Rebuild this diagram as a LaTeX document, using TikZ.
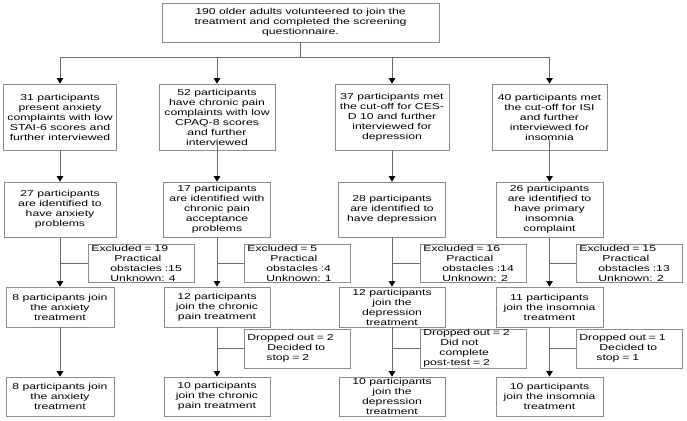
\documentclass[tikz,border=0pt]{standalone}
\usepackage{fontspec}
\setmainfont{Liberation Sans}[FakeStretch=1.42]
\usetikzlibrary{arrows.meta}
\definecolor{boxgray}{gray}{0.55}
\definecolor{linegray}{gray}{0.42}
\begin{document}
\begin{tikzpicture}[x=1pt,y=-1pt,
  box/.style={draw=boxgray, line width=0.8pt, align=center, inner xsep=1pt, inner ysep=0pt,
    font=\fontsize{8.6}{10}\selectfont},
  sidebox/.style={draw=boxgray, line width=0.8pt, align=left, text width=100pt, inner xsep=3pt,
    inner ysep=0pt, anchor=west, font=\fontsize{8.6}{10}\selectfont},
  ln/.style={draw=linegray, line width=0.8pt},
  arr/.style={ln, -{Triangle[width=6.5pt,length=5.5pt,color=black]}}]
\useasboundingbox (0,0) rectangle (687,420);
% top
\node[box, minimum width=277, minimum height=39] (top) at (300.5,22.5)
  {190 older adults volunteered to join the\\treatment and completed the screening\\questionnaire.};
% row 1
\node[box, minimum width=113, minimum height=66] (a1) at (60,117)
  {31 participants\\present anxiety\\complaints with low\\STAI-6 scores and\\further interviewed};
\node[box, minimum width=116, minimum height=66] (b1) at (217,117)
  {52 participants\\have chronic pain\\complaints with low\\CPAQ-8 scores\\and further\\interviewed};
\node[box, minimum width=114, minimum height=66] (c1) at (392,117)
  {37 participants met\\the cut-off for CES-\\D 10 and further\\interviewed for\\depression};
\node[box, minimum width=115, minimum height=66] (d1) at (549.5,117)
  {40 participants met\\the cut-off for ISI\\and further\\interviewed for\\insomnia};
% row 2
\node[box, minimum width=112, minimum height=55] (a2) at (60,209.5)
  {27 participants\\are identified to\\have anxiety\\problems};
\node[box, minimum width=107, minimum height=55] (b2) at (217,209.5)
  {17 participants\\are identified with\\chronic pain\\acceptance\\problems};
\node[box, minimum width=107, minimum height=55] (c2) at (392,209.5)
  {28 participants\\are identified to\\have depression};
\node[box, minimum width=107, minimum height=55] (d2) at (549.5,209.5)
  {26 participants\\are identified to\\have primary\\insomnia\\complaint};
% excluded
\node[sidebox, minimum height=38] (ea) at (88,263)
  {Excluded = 19\\\hspace*{23pt}Practical\\\hspace*{19pt}obstacles :15\\\hspace*{19pt}Unknown: 4};
\node[sidebox, minimum height=38] (eb) at (244,263)
  {Excluded = 5\\\hspace*{23pt}Practical\\\hspace*{19pt}obstacles :4\\\hspace*{19pt}Unknown: 1};
\node[sidebox, minimum height=38] (ec) at (420,263)
  {Excluded = 16\\\hspace*{23pt}Practical\\\hspace*{19pt}obstacles :14\\\hspace*{19pt}Unknown: 2};
\node[sidebox, minimum height=38] (ed) at (576,263)
  {Excluded = 15\\\hspace*{23pt}Practical\\\hspace*{19pt}obstacles :13\\\hspace*{19pt}Unknown: 2};
% row 4
\node[box, minimum width=108, minimum height=40] (a4) at (60,307)
  {8 participants join\\the anxiety\\treatment};
\node[box, minimum width=106, minimum height=40] (b4) at (217,307)
  {12 participants\\join the chronic\\pain treatment};
\node[box, minimum width=106, minimum height=40] (c4) at (392,307)
  {12 participants\\join the\\depression\\treatment};
\node[box, minimum width=107, minimum height=40] (d4) at (549.5,307)
  {11 participants\\join the insomnia\\treatment};
% dropped
\node[sidebox, minimum height=39] (db) at (244,348.5)
  {Dropped out = 2\\\hspace*{20pt}Decided to\\\hspace*{19pt}stop = 2};
\node[sidebox, minimum height=39] (dc) at (420,348.5)
  {Dropped out = 2\\\hspace*{17pt}Did not\\\hspace*{16pt}complete\\post-test = 2};
\node[sidebox, minimum height=39] (dd) at (576,348.5)
  {Dropped out = 1\\\hspace*{20pt}Decided to\\\hspace*{17pt}stop = 1};
% row 5
\node[box, minimum width=108, minimum height=39] (a5) at (60,396.5)
  {8 participants join\\the anxiety\\treatment};
\node[box, minimum width=106, minimum height=39] (b5) at (217,396.5)
  {10 participants\\join the chronic\\pain treatment};
\node[box, minimum width=106, minimum height=39] (c5) at (392,396.5)
  {10 participants\\join the\\depression\\treatment};
\node[box, minimum width=107, minimum height=39] (d5) at (549.5,396.5)
  {10 participants\\join the insomnia\\treatment};
% connectors
\coordinate (bus) at (0,57);
\draw[ln] (top.south) -- (top.south |- bus);
\draw[ln] (a1.north |- bus) -- (d1.north |- bus);
\foreach \n in {a,b,c,d} {
  \draw[arr] (\n1.north |- bus) -- (\n1.north);
  \draw[arr] (\n2.south) -- (\n4.north);
  \draw[arr] (\n4.south) -- (\n5.north);
}
\draw[arr] (a1.south) -- (a2.north);
\draw[arr] ([yshift=10pt]b1.south) -- (b2.north);
\draw[arr] (c1.south) -- (c2.north);
\draw[arr] ([yshift=10pt]d1.south) -- (d2.north);
\foreach \n in {a,b,c,d} \draw[ln] (e\n.west) -- (e\n.west -| \n2.south);
\foreach \n in {b,c,d} \draw[ln] (d\n.west) -- (d\n.west -| \n4.south);
\end{tikzpicture}
\end{document}
